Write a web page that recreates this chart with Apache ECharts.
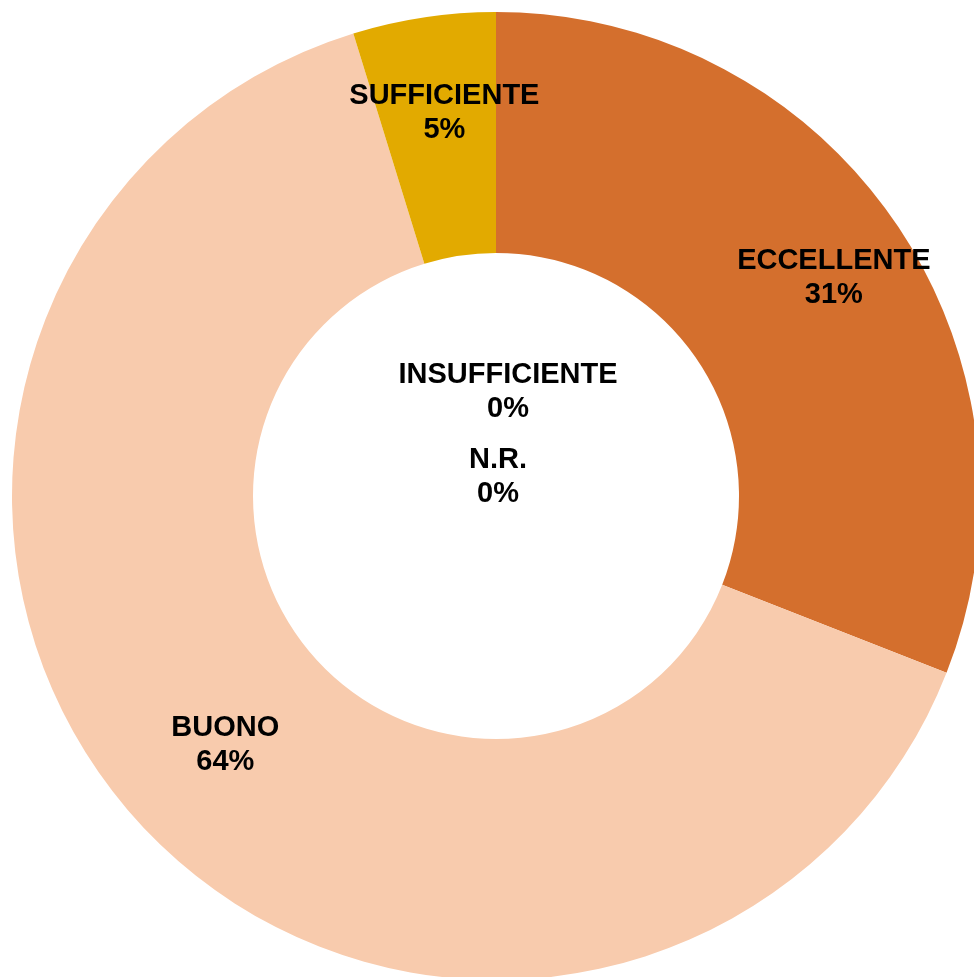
<!DOCTYPE html>
<html lang="it" style="height: 100%;overflow: hidden;">
<head>
  <meta charset="utf-8">
</head>
<body style="height: 100%; margin: 0; background: #fff;">
  <div id="container" style="width: 974px; height: 977px;"></div>
  <script type="text/javascript" src="https://cdn.jsdelivr.net/npm/echarts@6/dist/echarts.min.js"></script>
  <script type="text/javascript">
    // giudizi, conteggi (13/42 = 31%, 27/42 = 64%, 2/42 = 5%)
    var categories = ['ECCELLENTE', 'BUONO', 'SUFFICIENTE', 'INSUFFICIENTE', 'N.R.'];
    var values = [13, 27, 2, 0, 0];
    var colors = ['#D46F2D', '#F8CBAD', '#E2AA00', '#A5A5A5', '#5B9BD5'];

    // spostamento delle etichette rispetto alla posizione di default
    var labelShift = [[35, -12], [-2, 0], [3, -21], [12, 262], [2, 347]];

    var dom = document.getElementById('container');
    var myChart = echarts.init(dom, null, { renderer: 'canvas' });

    var option = {
      backgroundColor: '#fff',
      animation: false,
      series: [
        {
          type: 'pie',
          center: [496, 496],
          radius: [243, 484],
          startAngle: 90,
          clockwise: true,
          stillShowZeroSum: true,
          minAngle: 0,
          label: {
            show: true,
            position: 'inside',
            formatter: function (p) {
              return p.name + '\n' + Math.round(p.percent) + '%';
            },
            color: '#000',
            fontFamily: 'Liberation Sans, Arial, sans-serif',
            fontWeight: 'bold',
            fontSize: 29,
            lineHeight: 34,
            align: 'center'
          },
          labelLine: { show: false },
          labelLayout: function (params) {
            var s = labelShift[params.dataIndex];
            return { dx: s[0], dy: s[1] };
          },
          emphasis: { disabled: true },
          itemStyle: { borderWidth: 0 },
          data: categories.map(function (c, i) {
            return { name: c, value: values[i], itemStyle: { color: colors[i] } };
          })
        }
      ]
    };

    myChart.setOption(option);
    window.addEventListener('resize', myChart.resize);
  </script>
</body>
</html>
